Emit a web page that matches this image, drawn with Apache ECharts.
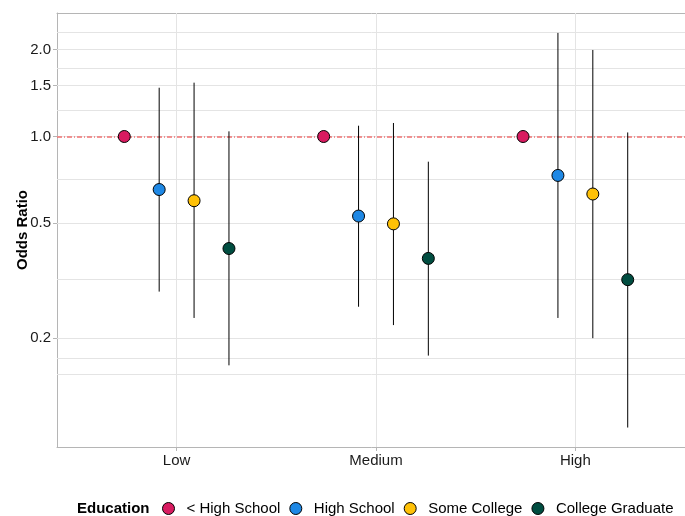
<!DOCTYPE html>
<html>
<head>
<meta charset="utf-8">
<script src="https://cdn.jsdelivr.net/npm/echarts@6/dist/echarts.min.js"></script>
<style>
html,body{margin:0;padding:0;background:#fff;}
#chart{width:685px;height:516px;}
</style>
</head>
<body>
<div id="chart"></div>
<script>
// ---- data ----
const categories = ['Low', 'Medium', 'High'];
const educationLevels = ['< High School', 'High School', 'Some College', 'College Graduate'];
const educationColors = ['#D81B60', '#1E88E5', '#FFC107', '#004D40'];

const oddsLessHS = [1.0, 1.0, 1.0];
const lowerLessHS = [null, null, null];
const upperLessHS = [null, null, null];

const oddsHighSchool = [0.655, 0.530, 0.733];
const lowerHighSchool = [0.290, 0.257, 0.235];
const upperHighSchool = [1.476, 1.090, 2.286];

const oddsSomeCollege = [0.599, 0.498, 0.632];
const lowerSomeCollege = [0.235, 0.222, 0.200];
const upperSomeCollege = [1.537, 1.114, 1.995];

const oddsCollegeGrad = [0.409, 0.378, 0.319];
const lowerCollegeGrad = [0.161, 0.174, 0.098];
const upperCollegeGrad = [1.042, 0.818, 1.033];

const yTickValues = [0.2, 0.5, 1.0, 1.5, 2.0];
const yMinorGrid = [0.152, 0.175, 0.316, 0.707, 1.225, 1.732, 2.3];
const referenceValue = 1.0;

// ---- build ----
const odds = [oddsLessHS, oddsHighSchool, oddsSomeCollege, oddsCollegeGrad];
const lowers = [lowerLessHS, lowerHighSchool, lowerSomeCollege, lowerCollegeGrad];
const uppers = [upperLessHS, upperHighSchool, upperSomeCollege, upperCollegeGrad];

const dodgeWidth = 0.7;
const step = dodgeWidth / educationLevels.length;
function dodgeX(catIdx, seriesIdx) {
  return catIdx + (seriesIdx - (educationLevels.length - 1) / 2) * step;
}

const FONT = '"Liberation Sans", Arial, sans-serif';
const GRID_COLOR = '#e4e4e4';
const BORDER_COLOR = '#b5b5b5';

const gridLineData = []
  .concat(yTickValues.map(v => ({ yAxis: v })))
  .concat(yMinorGrid.map(v => ({ yAxis: v })))
  .concat(categories.map((c, i) => ({ xAxis: i })));

const series = [];
// gridlines
series.push({
  type: 'line',
  name: '__grid',
  data: [[0, 1]],
  showSymbol: false,
  symbol: 'none',
  silent: true,
  z: 1,
  lineStyle: { opacity: 0 },
  markLine: {
    silent: true,
    z: 1,
    symbol: ['none', 'none'],
    label: { show: false },
    animation: false,
    lineStyle: { color: GRID_COLOR, width: 1, type: 'solid' },
    data: gridLineData
  }
});
// reference line
series.push({
  type: 'line',
  name: '__ref',
  data: [[0, 1]],
  showSymbol: false,
  symbol: 'none',
  silent: true,
  z: 2,
  lineStyle: { opacity: 0 },
  markLine: {
    silent: true,
    z: 2,
    symbol: ['none', 'none'],
    label: { show: false },
    animation: false,
    lineStyle: { color: '#ef7272', width: 1.6, type: [5, 2, 1, 2] },
    data: [{ yAxis: referenceValue }]
  }
});
// error bars
const ciData = [];
educationLevels.forEach((lvl, s) => {
  categories.forEach((c, i) => {
    if (lowers[s][i] != null && uppers[s][i] != null) {
      ciData.push([dodgeX(i, s), lowers[s][i], uppers[s][i]]);
    }
  });
});
series.push({
  type: 'custom',
  name: '__ci',
  z: 3,
  silent: true,
  encode: { x: 0, y: [1, 2] },
  data: ciData,
  renderItem: function (params, api) {
    const p1 = api.coord([api.value(0), api.value(1)]);
    const p2 = api.coord([api.value(0), api.value(2)]);
    return {
      type: 'line',
      shape: { x1: p1[0], y1: p1[1], x2: p2[0], y2: p2[1] },
      style: { stroke: '#000', lineWidth: 1 }
    };
  }
});
// points
educationLevels.forEach((lvl, s) => {
  series.push({
    type: 'scatter',
    name: lvl,
    z: 10,
    symbol: 'circle',
    symbolSize: 12,
    itemStyle: { color: educationColors[s], borderColor: '#000', borderWidth: 1, opacity: 1 },
    data: categories.map((c, i) => [dodgeX(i, s), odds[s][i]])
  });
});

const chart = echarts.init(document.getElementById('chart'), null, { renderer: 'canvas' });
chart.setOption({
  animation: false,
  backgroundColor: '#fff',
  textStyle: { fontFamily: FONT },
  grid: {
    left: 57, right: -10, top: 13, bottom: 69,
    containLabel: false,
    outerBoundsMode: 'none',
    show: false
  },
  xAxis: [{
    type: 'value',
    min: -0.6, max: 2.6,
    position: 'bottom',
    axisLine: { show: true, onZero: false, lineStyle: { color: BORDER_COLOR, width: 1 } },
    axisTick: { show: true, length: 4, lineStyle: { color: BORDER_COLOR }, customValues: [0, 1, 2] },
    splitLine: { show: false },
    axisLabel: {
      customValues: [0, 1, 2],
      margin: 6,
      fontSize: 15,
      color: '#1a1a1a',
      fontFamily: FONT,
      formatter: v => categories[Math.round(v)] || ''
    }
  }, {
    type: 'value',
    min: -0.6, max: 2.6,
    position: 'top',
    axisLine: { show: true, onZero: false, lineStyle: { color: BORDER_COLOR, width: 1 } },
    axisTick: { show: false },
    axisLabel: { show: false },
    splitLine: { show: false }
  }],
  yAxis: {
    type: 'log',
    logBase: 10,
    min: 0.0839, max: 2.68,
    name: 'Odds Ratio',
    nameLocation: 'middle',
    nameGap: 27,
    nameMoveOverlap: false,
    nameTextStyle: { fontSize: 15, fontWeight: 'bold', color: '#000', fontFamily: FONT },
    axisLine: { show: true, onZero: false, lineStyle: { color: BORDER_COLOR, width: 1 } },
    axisTick: { show: true, length: 4, lineStyle: { color: BORDER_COLOR }, customValues: yTickValues },
    splitLine: { show: false },
    minorTick: { show: false },
    minorSplitLine: { show: false },
    axisLabel: {
      customValues: yTickValues,
      margin: 6,
      fontSize: 15,
      color: '#1a1a1a',
      fontFamily: FONT,
      formatter: v => Number(v).toFixed(1)
    }
  },
  legend: {
    data: educationLevels.map((n, s) => ({
      name: n,
      icon: 'circle',
      itemStyle: { color: educationColors[s], borderColor: '#000', borderWidth: 1 }
    })),
    left: 157,
    top: 496,
    orient: 'horizontal',
    itemWidth: 26,
    itemHeight: 12,
    itemGap: 9,
    selectedMode: false,
    textStyle: { fontSize: 15, color: '#000', fontFamily: FONT }
  },
  graphic: [{
    type: 'text',
    left: 77,
    top: 501,
    style: { text: 'Education', font: 'bold 15px ' + FONT, fill: '#000' }
  }],
  series: series
});
</script>
</body>
</html>
